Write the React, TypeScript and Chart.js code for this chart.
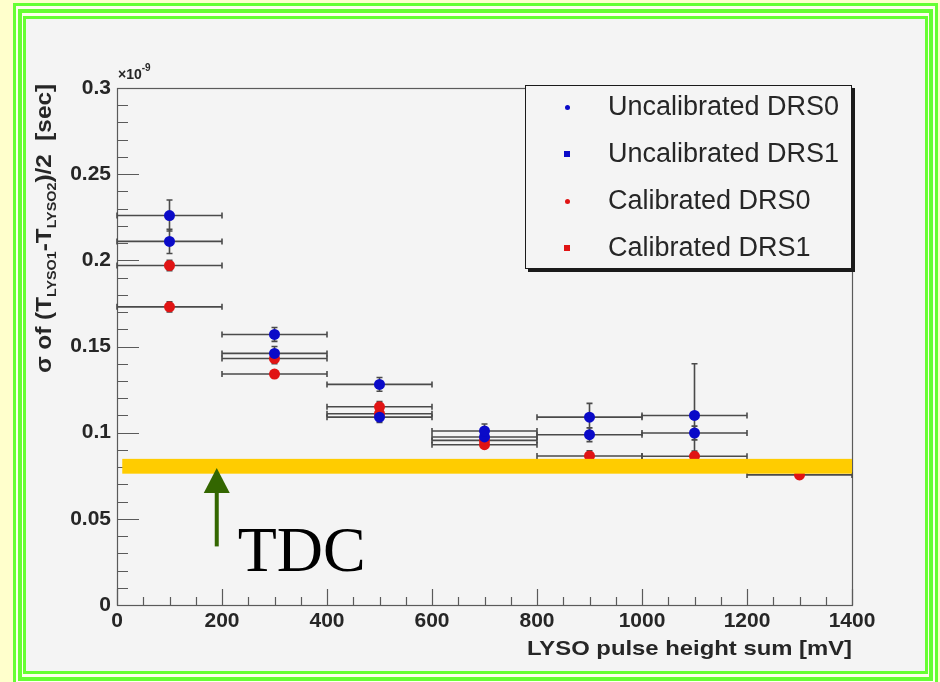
import { useEffect, useRef } from 'react';
import { Chart, registerables } from 'chart.js';

Chart.register(...registerables);

// LYSO pulse-height bins (centre, mV) and their half width
const binCentres = [100, 300, 500, 700, 900, 1100, 1300];
const binHalfWidth = 100;

// Timing resolution, units of 1e-9 s
const uncalDrs0 = [0.226, 0.157, 0.128, 0.101, 0.109, 0.110];
const uncalDrs0Err = [0.009, 0.004, 0.004, 0.004, 0.008, 0.030];
const uncalDrs1 = [0.211, 0.146, 0.109, 0.0975, 0.0988, 0.0998];
const uncalDrs1Err = [0.007, 0.004, 0.003, 0.003, 0.004, 0.004];
const calDrs0 = [0.197, 0.143, 0.115, 0.0955, 0.0865, 0.0863, 0.0755];
const calDrs0Err = [0.003, 0.003, 0.003, 0.002, 0.003, 0.003, 0.002];
const calDrs1 = [0.173, 0.134, 0.111, 0.093];
const calDrs1Err = [0.003, 0.002, 0.003, 0.002];

const seriesNames = ['Uncalibrated DRS0', 'Uncalibrated DRS1', 'Calibrated DRS0', 'Calibrated DRS1'];

// Axis ticks
const xTicks = [0, 200, 400, 600, 800, 1000, 1200, 1400];
const xTickLabels = ['0', '200', '400', '600', '800', '1000', '1200', '1400'];
const yTicks = [0, 0.05, 0.1, 0.15, 0.2, 0.25, 0.3];
const yTickLabels = ['0', '0.05', '0.1', '0.15', '0.2', '0.25', '0.3'];

// TDC reference band and arrow (x in mV, y in 1e-9 s)
const tdcBandY = [0.0762, 0.0848];
const tdcBandX = [10, 1400];
const tdcArrowX = 190;
const tdcArrowY = [0.034, 0.0795];

const xTitle = 'LYSO pulse height sum [mV]';

const BLUE = '#0a0ac8';
const RED = '#e01414';
const SANS = '"Liberation Sans", Arial, Helvetica, sans-serif';
const SERIF = '"Liberation Serif", "Times New Roman", serif';
const TEXT = '#262626';

const points = (ys: number[]) => ys.map((y, i) => ({ x: binCentres[i], y }));

const frameAndTicks = {
  id: 'frameAndTicks',
  beforeDatasetsDraw(chart: any) {
    const { ctx, chartArea: a, scales } = chart;
    const x = scales.x;
    const y = scales.y;
    ctx.save();
    ctx.strokeStyle = '#5a5a5a';
    ctx.lineWidth = 1.2;
    ctx.strokeRect(a.left + 0.5, a.top + 0.5, a.right - a.left, a.bottom - a.top);
    ctx.beginPath();
    // y ticks: major every 0.05, minor every 0.01
    for (let k = 0; k <= 30; k++) {
      const py = Math.round(y.getPixelForValue(k / 100)) + 0.5;
      const len = k % 5 === 0 ? 22 : 11;
      ctx.moveTo(a.left, py);
      ctx.lineTo(a.left + len, py);
    }
    // x ticks: major every 200, minor every 50
    for (let v = 0; v <= 1400; v += 50) {
      const px = Math.round(x.getPixelForValue(v)) + 0.5;
      const len = v % 200 === 0 ? 16 : 8;
      ctx.moveTo(px, a.bottom);
      ctx.lineTo(px, a.bottom - len);
    }
    ctx.stroke();
    ctx.restore();
  },
};

const errorBars = {
  id: 'errorBars',
  beforeDatasetsDraw(chart: any) {
    const { ctx, scales } = chart;
    const x = scales.x;
    const y = scales.y;
    ctx.save();
    ctx.strokeStyle = '#4a4a4a';
    ctx.lineWidth = 1.6;
    chart.data.datasets.forEach((ds: any) => {
      ds.data.forEach((p: any, i: number) => {
        const px = x.getPixelForValue(p.x);
        const py = y.getPixelForValue(p.y);
        const x0 = x.getPixelForValue(p.x - binHalfWidth);
        const x1 = x.getPixelForValue(p.x + binHalfWidth);
        const e = ds.yErr[i];
        const y0 = y.getPixelForValue(p.y - e);
        const y1 = y.getPixelForValue(p.y + e);
        ctx.beginPath();
        ctx.moveTo(x0, py);
        ctx.lineTo(x1, py);
        ctx.moveTo(x0, py - 3);
        ctx.lineTo(x0, py + 3);
        ctx.moveTo(x1, py - 3);
        ctx.lineTo(x1, py + 3);
        ctx.moveTo(px, y0);
        ctx.lineTo(px, y1);
        ctx.moveTo(px - 3, y0);
        ctx.lineTo(px + 3, y0);
        ctx.moveTo(px - 3, y1);
        ctx.lineTo(px + 3, y1);
        ctx.stroke();
      });
    });
    ctx.restore();
  },
};

const tdcMarker = {
  id: 'tdcMarker',
  afterDatasetsDraw(chart: any) {
    const { ctx, scales } = chart;
    const x = scales.x;
    const y = scales.y;
    ctx.save();
    // band
    const bx0 = x.getPixelForValue(tdcBandX[0]);
    const bx1 = x.getPixelForValue(tdcBandX[1]);
    const by0 = y.getPixelForValue(tdcBandY[1]);
    const by1 = y.getPixelForValue(tdcBandY[0]);
    ctx.fillStyle = '#ffcc00';
    ctx.fillRect(bx0, by0, bx1 - bx0, by1 - by0);
    // arrow
    const ax = x.getPixelForValue(tdcArrowX);
    const tail = y.getPixelForValue(tdcArrowY[0]);
    const tip = y.getPixelForValue(tdcArrowY[1]);
    ctx.fillStyle = '#336600';
    ctx.fillRect(ax - 2, tip + 22, 4, tail - tip - 22);
    ctx.beginPath();
    ctx.moveTo(ax, tip);
    ctx.lineTo(ax + 13, tip + 25);
    ctx.lineTo(ax - 13, tip + 25);
    ctx.closePath();
    ctx.fill();
    // label
    ctx.fillStyle = '#000';
    ctx.font = `64px ${SERIF}`;
    ctx.textAlign = 'left';
    ctx.textBaseline = 'alphabetic';
    ctx.fillText('TDC', ax + 21, tail + 25);
    ctx.restore();
  },
};

const axisTitles = {
  id: 'axisTitles',
  afterDraw(chart: any) {
    const { ctx, chartArea: a } = chart;
    ctx.save();
    ctx.fillStyle = TEXT;
    ctx.textBaseline = 'alphabetic';

    // x-axis title, right aligned to the frame
    ctx.font = `bold 21px ${SANS}`;
    const wx = ctx.measureText(xTitle).width;
    ctx.save();
    ctx.translate(a.right, a.bottom + 50);
    ctx.scale(325 / wx, 1);
    ctx.textAlign = 'right';
    ctx.fillText(xTitle, 0, 0);
    ctx.restore();

    // y-axis title with subscripts, rotated, ending at the frame top
    const parts: [string, boolean][] = [
      ['\u03c3 of (T', false],
      ['LYSO1', true],
      ['-T', false],
      ['LYSO2', true],
      [')/2  [sec]', false],
    ];
    const mainFont = `bold 22px ${SANS}`;
    const subFont = `bold 13px ${SANS}`;
    let total = 0;
    const widths = parts.map(([t, sub]) => {
      ctx.font = sub ? subFont : mainFont;
      const w = ctx.measureText(t).width;
      total += w;
      return w;
    });
    const length = 289;
    ctx.save();
    ctx.translate(51, a.top + length - 4);
    ctx.rotate(-Math.PI / 2);
    ctx.scale(length / total, 1);
    ctx.textAlign = 'left';
    let pos = 0;
    parts.forEach(([t, sub], i) => {
      ctx.font = sub ? subFont : mainFont;
      ctx.fillText(t, pos, sub ? 5 : 0);
      pos += widths[i];
    });
    ctx.restore();

    // axis multiplier
    ctx.textAlign = 'left';
    ctx.font = `bold 14px ${SANS}`;
    ctx.fillText('\u00d710', a.left + 1, a.top - 9);
    const w10 = ctx.measureText('\u00d710').width;
    ctx.font = `bold 10px ${SANS}`;
    ctx.fillText('-9', a.left + 1 + w10, a.top - 17);
    ctx.restore();
  },
};

function LegendBox() {
  const rows = [
    { color: BLUE, square: false },
    { color: BLUE, square: true },
    { color: RED, square: false },
    { color: RED, square: true },
  ];
  return (
    <div
      style={{
        position: 'absolute',
        left: 525,
        top: 85,
        width: 327,
        height: 184,
        boxSizing: 'border-box',
        border: '1px solid #1a1a1a',
        boxShadow: '3px 3px 0 #1a1a1a',
        background: '#f4f4f4',
      }}
    >
      {rows.map((r, i) => (
        <div key={i}>
          <div
            style={{
              position: 'absolute',
              left: r.square ? 38 : 39,
              top: 21 + 47 * i - (r.square ? 3 : 2.5),
              width: r.square ? 6 : 5,
              height: r.square ? 6 : 5,
              borderRadius: r.square ? 0 : '50%',
              background: r.color,
            }}
          />
          <div
            style={{
              position: 'absolute',
              left: 82,
              top: 21 + 47 * i - 17,
              height: 32,
              lineHeight: '32px',
              fontFamily: SANS,
              fontSize: 27,
              color: TEXT,
              whiteSpace: 'nowrap',
            }}
          >
            {seriesNames[i]}
          </div>
        </div>
      ))}
    </div>
  );
}

export default function App() {
  const canvasRef = useRef<HTMLCanvasElement | null>(null);

  useEffect(() => {
    const canvas = canvasRef.current;
    if (!canvas) return;
    const tickFont = { family: SANS, size: 21, weight: 'bold' as const };
    const mk = (label: string, ys: number[], errs: number[], color: string) => ({
      label,
      data: points(ys),
      yErr: errs,
      backgroundColor: color,
      borderColor: color,
      borderWidth: 0,
      pointRadius: 5.5,
      pointHoverRadius: 5.5,
      showLine: false,
    });
    const chart = new Chart(canvas, {
      type: 'scatter',
      data: {
        datasets: [
          mk(seriesNames[0], uncalDrs0, uncalDrs0Err, BLUE),
          mk(seriesNames[1], uncalDrs1, uncalDrs1Err, BLUE),
          mk(seriesNames[2], calDrs0, calDrs0Err, RED),
          mk(seriesNames[3], calDrs1, calDrs1Err, RED),
        ] as any,
      },
      options: {
        responsive: false,
        animation: false,
        devicePixelRatio: 1,
        layout: { padding: { left: 0, right: 88, top: 88, bottom: 0 } },
        plugins: {
          legend: { display: false },
          tooltip: { enabled: false },
        },
        scales: {
          x: {
            type: 'linear',
            min: 0,
            max: 1400,
            afterBuildTicks: (s: any) => {
              s.ticks = xTicks.map((v) => ({ value: v }));
            },
            afterFit: (s: any) => {
              s.height = 77;
            },
            grid: { display: false, drawTicks: false },
            border: { display: false },
            ticks: {
              autoSkip: false,
              maxRotation: 0,
              padding: 4,
              color: TEXT,
              font: tickFont,
              callback: (_v: any, i: number) => xTickLabels[i],
            },
          },
          y: {
            type: 'linear',
            min: 0,
            max: 0.3,
            afterBuildTicks: (s: any) => {
              s.ticks = yTicks.map((v) => ({ value: v }));
            },
            afterFit: (s: any) => {
              s.width = 117;
            },
            grid: { display: false, drawTicks: false },
            border: { display: false },
            ticks: {
              autoSkip: false,
              padding: 6,
              color: TEXT,
              font: tickFont,
              callback: (_v: any, i: number) => yTickLabels[i],
            },
          },
        },
      },
      plugins: [frameAndTicks, errorBars, tdcMarker, axisTitles],
    } as any);
    return () => chart.destroy();
  }, []);

  return (
    <div
      style={{
        position: 'absolute',
        left: 0,
        top: 0,
        width: 940,
        height: 682,
        overflow: 'hidden',
        background: '#ffffcc',
      }}
    >
      <div style={{ position: 'absolute', left: 13, top: 3, width: 925, height: 700, boxSizing: 'border-box', border: '3px solid #66ff33', background: '#ffffee' }} />
      <div style={{ position: 'absolute', left: 18, top: 9, width: 915, height: 672, boxSizing: 'border-box', border: '4px solid #66ff33', background: '#ffffee' }} />
      <div style={{ position: 'absolute', left: 23, top: 16, width: 905, height: 658, boxSizing: 'border-box', border: '3px solid #66ff33', background: '#f4f4f4' }} />
      <canvas
        ref={canvasRef}
        width={940}
        height={682}
        style={{ position: 'absolute', left: 0, top: 0, width: 940, height: 682 }}
      />
      <LegendBox />
    </div>
  );
}
